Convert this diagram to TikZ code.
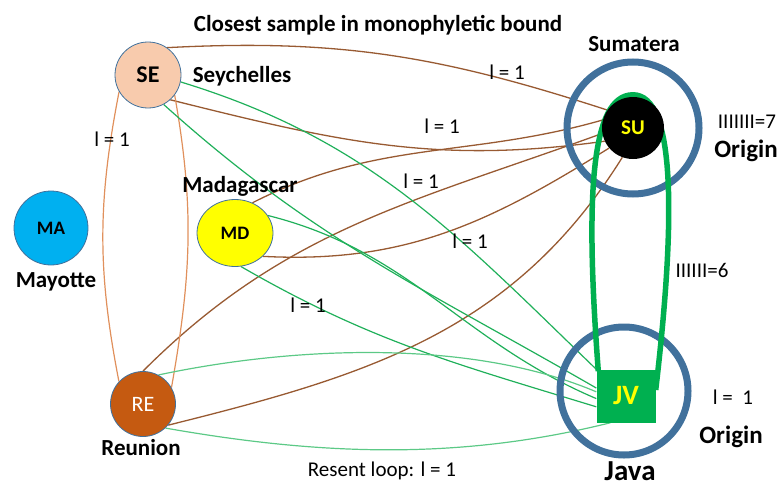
\documentclass[tikz,border=0pt]{standalone}
\usepackage{fontspec}
\setmainfont{Carlito}
\usetikzlibrary{shapes.geometric,backgrounds}

\definecolor{sepeach}{HTML}{F8CBAD}
\definecolor{macyan}{HTML}{00B0F0}
\definecolor{mdyellow}{HTML}{FFFF00}
\definecolor{rebrown}{HTML}{C55A11}
\definecolor{jvgreen}{HTML}{00B050}
\definecolor{ringblue}{HTML}{41719C}
\definecolor{linkbrown}{HTML}{985A32}
\definecolor{linkorange}{HTML}{E0905C}
\definecolor{linkgreen}{HTML}{20B05A}
\definecolor{lightgreen}{HTML}{5CC986}

\begin{document}
\begin{tikzpicture}[x=1pt, y=1pt,
    site/.style={circle, draw=ringblue, line width=0.8pt, inner sep=0pt},
    placename/.style={font=\fontsize{23}{26}\selectfont\bfseries},
    weight/.style={font=\fontsize{21}{24}\selectfont},
    brownlink/.style={draw=linkbrown, line width=1.3pt},
    orangelink/.style={draw=linkorange, line width=1.2pt},
    greenlink/.style={draw=linkgreen, line width=1.2pt},
    lightlink/.style={draw=lightgreen, line width=1.2pt},
    ring/.style={draw=ringblue, line width=7pt},
    loopline/.style={draw=jvgreen, line width=5.5pt}]

    \useasboundingbox (0,0) rectangle (781,-487);

    % Sites
    \node[site, fill=sepeach, minimum size=66pt, font=\fontsize{24}{26}\selectfont\bfseries] (SE) at (148,-75) {SE};
    \node[site, fill=macyan, minimum size=74pt, font=\fontsize{19}{21}\selectfont\bfseries] (MA) at (51,-228) {MA};
    \node[ellipse, draw=ringblue, line width=0.8pt, inner sep=0pt, fill=mdyellow, minimum width=76pt, minimum height=67pt,
          font=\fontsize{19}{21}\selectfont\bfseries] (MD) at (235,-233) {MD};
    \node[site, fill=rebrown, text=white, minimum size=65pt, font=\fontsize{22}{24}\selectfont] (RE) at (143,-404) {RE};
    \node[circle, fill=black, text=mdyellow, minimum size=62pt, inner sep=0pt, font=\fontsize{21}{23}\selectfont\bfseries] (SU) at (633,-128) {SU};
    \node[rectangle, fill=jvgreen, text=mdyellow, minimum width=59pt, minimum height=53pt, inner sep=0pt,
          font=\fontsize{28}{30}\selectfont\bfseries] (JV) at (626,-396) {JV};

    % Site names
    \node[placename] (title) at (378,-25) {Closest sample in monophyletic bound};
    \node[placename] (seychelles) at (242,-76) {Seychelles};
    \node[placename] (madagascar) at (240,-186) {Madagascar};
    \node[placename] (mayotte) at (56,-282) {Mayotte};
    \node[placename] (reunion) at (141,-448) {Reunion};
    \node[placename] (sumatera) at (634,-44) {Sumatera};
    \node[placename, font=\fontsize{25}{27}\selectfont\bfseries] (suorigin) at (746,-151) {Origin};
    \node[placename, font=\fontsize{25}{27}\selectfont\bfseries] (jvorigin) at (731,-437) {Origin};
    \node[placename, font=\fontsize{29}{31}\selectfont\bfseries] (java) at (630,-471) {Java};

    \begin{scope}[on background layer]
        % Sumatera links
        \draw[brownlink] (SE.55) to[out=3, in=162] (SU.145);
        \draw[brownlink] (SE.-48) to[out=-14, in=188] (SU.205);
        \draw[brownlink] (MD.60) to[out=27, in=196] (SU.165);
        \draw[brownlink] (MD.-40) to[out=-3, in=212] (SU.220);
        \draw[brownlink] (RE.north) to[out=45, in=200] (SU.190);
        \draw[brownlink] (RE.-40) to[out=14, in=238] (SU.250);

        % Seychelles - Reunion
        \draw[orangelink] (SE.210) to[out=259, in=101] (RE.137);
        \draw[orangelink] (SE.-37) to[out=-80, in=80] (RE.30);

        % Java links
        \draw[greenlink] (SE.-12) to[out=-17, in=136] (JV.north west);
        \draw[greenlink] (SE.-62) to[out=-42, in=150] (JV.165);
        \draw[greenlink] (MD.28) to[out=-14, in=157] (JV.185);
        \draw[greenlink] (MD.-80) to[out=-30, in=163] (JV.200);
        \draw[lightlink] (RE.62) to[out=12, in=157, looseness=0.8] (JV.172);
        \draw[lightlink] (RE.-47) to[out=-10, in=194, looseness=0.9] (JV.-120);

        % Origin rings
        \draw[ring] (SU.center) circle[radius=66];
        \draw[ring] ([shift={(-2,5)}]JV.center) circle[radius=64];

        % Sumatera - Java loop
        \draw[loopline] ([xshift=2pt, yshift=-2pt]JV.north west) .. controls +(-13,172) and +(-43,0) .. ([yshift=2pt]SU.north)
            .. controls +(43,0) and +(20,170) .. ([yshift=6pt]JV.east);
    \end{scope}

    % Weights
    \node[weight] (wSE) at (112,-139) {l = 1};
    \node[weight] (wSUtop) at (507,-72) {l = 1};
    \node[weight] (wMDup) at (442,-126) {l = 1};
    \node[weight] (wRE) at (421,-181) {l = 1};
    \node[weight] (wSEJV) at (470,-241) {l = 1};
    \node[weight] (wMDJV) at (308,-305) {l = 1};
    \node[weight] (wloop) at (702,-270) {IIIIII=6};
    \node[weight] (wSU) at (747,-122) {IIIIIII=7};
    \node[weight] (wJV) at (733,-397) {l =\ \ 1};
    \node[weight] (recent) at (382,-471) {Resent loop: l = 1};
\end{tikzpicture}
\end{document}
